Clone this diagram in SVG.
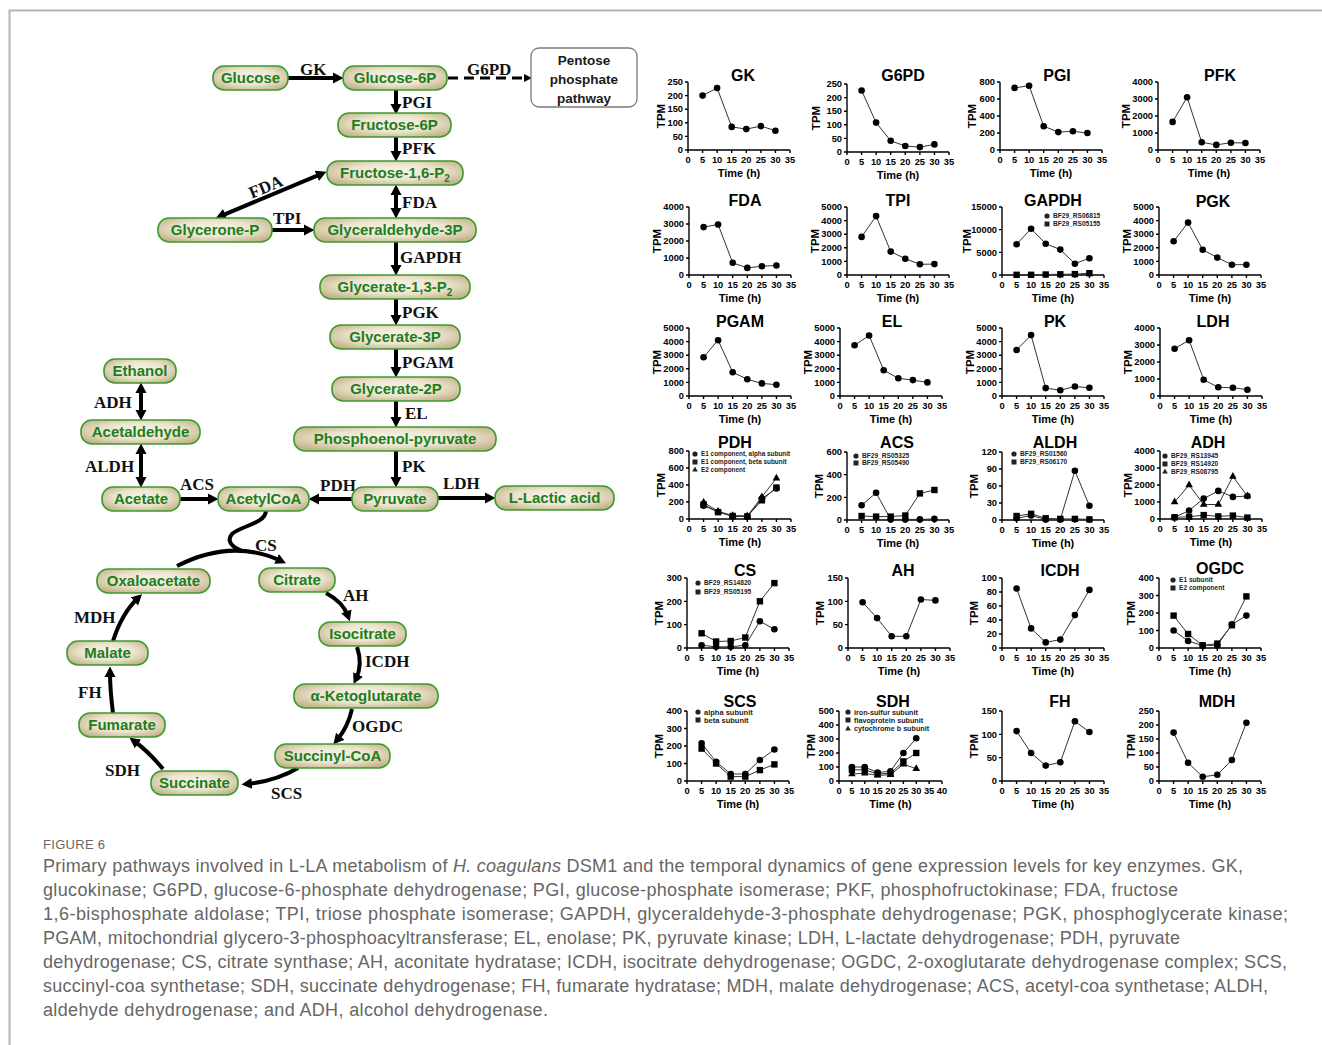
<svg xmlns="http://www.w3.org/2000/svg" xmlns:xlink="http://www.w3.org/1999/xlink" width="1322" height="1045" viewBox="0 0 1322 1045">
<style>
.nd rect{fill:url(#ng);stroke:#3c9b2e;stroke-width:1.6}
.nd text{font:bold 15px "Liberation Sans",Arial,sans-serif;fill:#1e7d1e;text-anchor:middle}
.ppp rect{fill:#fff;stroke:#7a7a7a;stroke-width:1.3}
.ppp text{font:bold 13.5px "Liberation Sans",Arial,sans-serif;fill:#1a1a1a;text-anchor:middle}
.en{font:bold 17px "Liberation Serif","Times New Roman",serif;fill:#111}
.ar{fill:none;stroke:#000;stroke-width:4;marker-end:url(#ah)}
.ab{marker-start:url(#ah)}
.cv{fill:none;stroke:#000;stroke-width:4}
.ad{fill:none;stroke:#000;stroke-width:2.8;stroke-dasharray:10 6;marker-end:url(#adh)}
.ax{fill:none;stroke:#000;stroke-width:1.4}
.tk{font:bold 9.3px "Liberation Sans",Arial,sans-serif;fill:#000}
.tkx{text-anchor:middle}
.tky{text-anchor:end}
.tt{font:bold 16px "Liberation Sans",Arial,sans-serif;text-anchor:middle;fill:#000}
.xl{font:bold 11px "Liberation Sans",Arial,sans-serif;text-anchor:middle;fill:#000}
.yl{font:bold 11.5px "Liberation Sans",Arial,sans-serif;text-anchor:middle;fill:#000}
.pl{fill:none;stroke:#333;stroke-width:1}
.pc{marker-start:url(#mc);marker-mid:url(#mc);marker-end:url(#mc)}
.ps{marker-start:url(#ms);marker-mid:url(#ms);marker-end:url(#ms)}
.pt{marker-start:url(#mt);marker-mid:url(#mt);marker-end:url(#mt)}
.lg{fill:#222;font:bold 6.6px "Liberation Sans",Arial,sans-serif}
.cap{font:18px "Liberation Sans",Arial,sans-serif;fill:#666}
</style>
<defs>
<radialGradient id="ng" cx="50%" cy="45%" r="62%">
<stop offset="0" stop-color="#f8f5ea"/>
<stop offset="0.55" stop-color="#ebe3cd"/>
<stop offset="1" stop-color="#c3b38a"/>
</radialGradient>
<marker id="ah" markerUnits="userSpaceOnUse" markerWidth="12" markerHeight="12" viewBox="0 0 12 12" refX="5" refY="6" orient="auto-start-reverse"><path d="M0,0.5L10.5,6L0,11.5Z" fill="#000"/></marker>
<marker id="adh" markerUnits="userSpaceOnUse" markerWidth="10" markerHeight="10" viewBox="0 0 10 10" refX="3" refY="5" orient="auto"><path d="M0,1L8,5L0,9Z" fill="#000"/></marker>
<marker id="mc" markerUnits="userSpaceOnUse" markerWidth="8" markerHeight="8" refX="4" refY="4" overflow="visible"><circle cx="4" cy="4" r="3.3" fill="#000"/></marker>
<marker id="ms" markerUnits="userSpaceOnUse" markerWidth="8" markerHeight="8" refX="4" refY="4" overflow="visible"><rect x="0.8" y="0.8" width="6.4" height="6.4" fill="#000"/></marker>
<marker id="mt" markerUnits="userSpaceOnUse" markerWidth="8" markerHeight="8" refX="4" refY="4.4" overflow="visible"><path d="M4,0L7.8,6.6L0.2,6.6Z" fill="#000"/></marker>
<g id="xa"><path class="ax" d="M0,0H102M0,0V3M14.57,0V3M29.14,0V3M43.71,0V3M58.29,0V3M72.86,0V3M87.43,0V3M102,0V3"/><text class="tk tkx" y="13"><tspan x="0">0</tspan><tspan x="14.57">5</tspan><tspan x="29.14">10</tspan><tspan x="43.71">15</tspan><tspan x="58.29">20</tspan><tspan x="72.86">25</tspan><tspan x="87.43">30</tspan><tspan x="102">35</tspan></text><text class="xl" x="51" y="27">Time (h)</text></g>
<g id="xa40"><path class="ax" d="M0,0H103M0,0V3M12.88,0V3M25.75,0V3M38.63,0V3M51.5,0V3M64.38,0V3M77.25,0V3M90.13,0V3M103,0V3"/><text class="tk tkx" y="13"><tspan x="0">0</tspan><tspan x="12.88">5</tspan><tspan x="25.75">10</tspan><tspan x="38.63">15</tspan><tspan x="51.5">20</tspan><tspan x="64.38">25</tspan><tspan x="77.25">30</tspan><tspan x="90.13">35</tspan><tspan x="103">40</tspan></text><text class="xl" x="51.5" y="27">Time (h)</text></g>
<g id="yA250"><path class="ax" d="M0,0V-68M-3,0H0M-3,-13.6H0M-3,-27.2H0M-3,-40.8H0M-3,-54.4H0M-3,-68H0"/><text class="tk tky"><tspan x="-5" y="3.2">0</tspan><tspan x="-5" y="-10.4">50</tspan><tspan x="-5" y="-24">100</tspan><tspan x="-5" y="-37.6">150</tspan><tspan x="-5" y="-51.2">200</tspan><tspan x="-5" y="-64.8">250</tspan></text></g>
<g id="yA800"><path class="ax" d="M0,0V-68M-3,0H0M-3,-17H0M-3,-34H0M-3,-51H0M-3,-68H0"/><text class="tk tky"><tspan x="-5" y="3.2">0</tspan><tspan x="-5" y="-13.8">200</tspan><tspan x="-5" y="-30.8">400</tspan><tspan x="-5" y="-47.8">600</tspan><tspan x="-5" y="-64.8">800</tspan></text></g>
<g id="yA4000"><path class="ax" d="M0,0V-68M-3,0H0M-3,-17H0M-3,-34H0M-3,-51H0M-3,-68H0"/><text class="tk tky"><tspan x="-5" y="3.2">0</tspan><tspan x="-5" y="-13.8">1000</tspan><tspan x="-5" y="-30.8">2000</tspan><tspan x="-5" y="-47.8">3000</tspan><tspan x="-5" y="-64.8">4000</tspan></text></g>
<g id="yA120"><path class="ax" d="M0,0V-68M-3,0H0M-3,-17H0M-3,-34H0M-3,-51H0M-3,-68H0"/><text class="tk tky"><tspan x="-5" y="3.2">0</tspan><tspan x="-5" y="-13.8">30</tspan><tspan x="-5" y="-30.8">60</tspan><tspan x="-5" y="-47.8">90</tspan><tspan x="-5" y="-64.8">120</tspan></text></g>
<g id="yA5000"><path class="ax" d="M0,0V-68M-3,0H0M-3,-13.6H0M-3,-27.2H0M-3,-40.8H0M-3,-54.4H0M-3,-68H0"/><text class="tk tky"><tspan x="-5" y="3.2">0</tspan><tspan x="-5" y="-10.4">1000</tspan><tspan x="-5" y="-24">2000</tspan><tspan x="-5" y="-37.6">3000</tspan><tspan x="-5" y="-51.2">4000</tspan><tspan x="-5" y="-64.8">5000</tspan></text></g>
<g id="yA15000"><path class="ax" d="M0,0V-68M-3,0H0M-3,-22.67H0M-3,-45.33H0M-3,-68H0"/><text class="tk tky"><tspan x="-5" y="3.2">0</tspan><tspan x="-5" y="-19.47">5000</tspan><tspan x="-5" y="-42.13">10000</tspan><tspan x="-5" y="-64.8">15000</tspan></text></g>
<g id="yA600"><path class="ax" d="M0,0V-68M-3,0H0M-3,-22.67H0M-3,-45.33H0M-3,-68H0"/><text class="tk tky"><tspan x="-5" y="3.2">0</tspan><tspan x="-5" y="-19.47">200</tspan><tspan x="-5" y="-42.13">400</tspan><tspan x="-5" y="-64.8">600</tspan></text></g>
<g id="yB300"><path class="ax" d="M0,0V-70M-3,0H0M-3,-23.33H0M-3,-46.67H0M-3,-70H0"/><text class="tk tky"><tspan x="-5" y="3.2">0</tspan><tspan x="-5" y="-20.13">100</tspan><tspan x="-5" y="-43.47">200</tspan><tspan x="-5" y="-66.8">300</tspan></text></g>
<g id="yB150"><path class="ax" d="M0,0V-70M-3,0H0M-3,-23.33H0M-3,-46.67H0M-3,-70H0"/><text class="tk tky"><tspan x="-5" y="3.2">0</tspan><tspan x="-5" y="-20.13">50</tspan><tspan x="-5" y="-43.47">100</tspan><tspan x="-5" y="-66.8">150</tspan></text></g>
<g id="yB400"><path class="ax" d="M0,0V-70M-3,0H0M-3,-17.5H0M-3,-35H0M-3,-52.5H0M-3,-70H0"/><text class="tk tky"><tspan x="-5" y="3.2">0</tspan><tspan x="-5" y="-14.3">100</tspan><tspan x="-5" y="-31.8">200</tspan><tspan x="-5" y="-49.3">300</tspan><tspan x="-5" y="-66.8">400</tspan></text></g>
<g id="yB100"><path class="ax" d="M0,0V-70M-3,0H0M-3,-14H0M-3,-28H0M-3,-42H0M-3,-56H0M-3,-70H0"/><text class="tk tky"><tspan x="-5" y="3.2">0</tspan><tspan x="-5" y="-10.8">20</tspan><tspan x="-5" y="-24.8">40</tspan><tspan x="-5" y="-38.8">60</tspan><tspan x="-5" y="-52.8">80</tspan><tspan x="-5" y="-66.8">100</tspan></text></g>
<g id="yB500"><path class="ax" d="M0,0V-70M-3,0H0M-3,-14H0M-3,-28H0M-3,-42H0M-3,-56H0M-3,-70H0"/><text class="tk tky"><tspan x="-5" y="3.2">0</tspan><tspan x="-5" y="-10.8">100</tspan><tspan x="-5" y="-24.8">200</tspan><tspan x="-5" y="-38.8">300</tspan><tspan x="-5" y="-52.8">400</tspan><tspan x="-5" y="-66.8">500</tspan></text></g>
<g id="yB250"><path class="ax" d="M0,0V-70M-3,0H0M-3,-14H0M-3,-28H0M-3,-42H0M-3,-56H0M-3,-70H0"/><text class="tk tky"><tspan x="-5" y="3.2">0</tspan><tspan x="-5" y="-10.8">50</tspan><tspan x="-5" y="-24.8">100</tspan><tspan x="-5" y="-38.8">150</tspan><tspan x="-5" y="-52.8">200</tspan><tspan x="-5" y="-66.8">250</tspan></text></g>
</defs>
<rect width="1322" height="1045" fill="#fff"/>
<path d="M9.5,1045V10.5H1322" fill="none" stroke="#b5b5b5" stroke-width="2"/>

<g id="connectors">
<line class="ar" x1="288" y1="78" x2="338" y2="78"/>
<line class="ad" x1="448" y1="78" x2="527" y2="78"/>
<line class="ar" x1="396" y1="90" x2="396" y2="109"/>
<line class="ar" x1="396" y1="137" x2="396" y2="156"/>
<line class="ar ab" x1="396" y1="190" x2="396" y2="213"/>
<line class="ar ab" x1="321.4" y1="173.9" x2="220.6" y2="216.1"/>
<line class="ar" x1="272" y1="230" x2="309" y2="230"/>
<line class="ar" x1="396" y1="242" x2="396" y2="270"/>
<line class="ar" x1="396" y1="298" x2="396" y2="320"/>
<line class="ar" x1="396" y1="349" x2="396" y2="372"/>
<line class="ar" x1="396" y1="401" x2="396" y2="422"/>
<line class="ar" x1="396" y1="451" x2="396" y2="482"/>
<line class="ar" x1="352" y1="499" x2="314" y2="499"/>
<line class="ar" x1="438" y1="498" x2="490" y2="498"/>
<line class="ar" x1="180" y1="499" x2="213" y2="499"/>
<line class="ar ab" x1="141" y1="388" x2="141" y2="415"/>
<line class="ar ab" x1="141" y1="449" x2="141" y2="482"/>
<path class="cv" d="M266,511 C265,524 240,526 232,534 C226,541 232,547 242,551"/>
<path class="ar" d="M177,566 Q232,538 281,561"/>
<path class="ar" d="M326,593 Q343,602 348,616"/>
<path class="ar" d="M357,647 Q363,664 356,679"/>
<path class="ar" d="M352,709 Q348,727 337,740"/>
<path class="ar" d="M298,768 Q276,781 247,784"/>
<path class="ar" d="M163,769 Q148,751 134,741"/>
<path class="ar" d="M113,713 Q110,690 110,672"/>
<path class="ar" d="M113,641 Q122,613 138,598"/>
</g>

<g id="enzyme-labels">
<text class="en" x="300" y="75">GK</text>
<text class="en" x="467" y="75">G6PD</text>
<text class="en" x="402" y="108">PGI</text>
<text class="en" x="402" y="154">PFK</text>
<text class="en" x="402" y="208">FDA</text>
<text class="en" text-anchor="middle" transform="translate(268,192) rotate(-22.5)">FDA</text>
<text class="en" x="273" y="224">TPI</text>
<text class="en" x="400" y="263">GAPDH</text>
<text class="en" x="402" y="318">PGK</text>
<text class="en" x="402" y="368">PGAM</text>
<text class="en" x="405" y="419">EL</text>
<text class="en" x="402" y="472">PK</text>
<text class="en" x="320" y="491">PDH</text>
<text class="en" x="443" y="489">LDH</text>
<text class="en" x="180" y="490">ACS</text>
<text class="en" x="94" y="408">ADH</text>
<text class="en" x="85" y="472">ALDH</text>
<text class="en" x="255" y="551">CS</text>
<text class="en" x="343" y="601">AH</text>
<text class="en" x="365" y="667">ICDH</text>
<text class="en" x="352" y="732">OGDC</text>
<text class="en" x="271" y="799">SCS</text>
<text class="en" x="105" y="776">SDH</text>
<text class="en" x="78" y="698">FH</text>
<text class="en" x="74" y="623">MDH</text>
</g>

<g id="n-glucose" class="nd"><rect x="213" y="66" width="75" height="24" rx="11"/><text x="250.5" y="83">Glucose</text></g>
<g id="n-glucose6p" class="nd"><rect x="343" y="66" width="104" height="24" rx="11"/><text x="395" y="83">Glucose-6P</text></g>
<g id="n-ppp" class="ppp"><rect x="531" y="48" width="106" height="59" rx="8"/><text x="584" y="65">Pentose</text><text x="584" y="84">phosphate</text><text x="584" y="103">pathway</text></g>
<g id="n-fructose6p" class="nd"><rect x="338" y="113" width="113" height="24" rx="11"/><text x="394.5" y="130">Fructose-6P</text></g>
<g id="n-fructose16p2" class="nd"><rect x="327" y="161" width="136" height="24" rx="11"/><text x="395" y="178">Fructose-1,6-P<tspan font-size="10" dy="4">2</tspan></text></g>
<g id="n-glyceronep" class="nd"><rect x="158" y="218" width="114" height="24" rx="11"/><text x="215" y="235">Glycerone-P</text></g>
<g id="n-glyceraldehyde3p" class="nd"><rect x="314" y="218" width="162" height="24" rx="11"/><text x="395" y="235">Glyceraldehyde-3P</text></g>
<g id="n-glycerate13p2" class="nd"><rect x="320" y="275" width="150" height="24" rx="11"/><text x="395" y="292">Glycerate-1,3-P<tspan font-size="10" dy="4">2</tspan></text></g>
<g id="n-glycerate3p" class="nd"><rect x="330" y="325" width="130" height="24" rx="11"/><text x="395" y="342">Glycerate-3P</text></g>
<g id="n-glycerate2p" class="nd"><rect x="332" y="377" width="128" height="24" rx="11"/><text x="396" y="394">Glycerate-2P</text></g>
<g id="n-pep" class="nd"><rect x="294" y="427" width="202" height="24" rx="11"/><text x="395" y="444">Phosphoenol-pyruvate</text></g>
<g id="n-pyruvate" class="nd"><rect x="352" y="487" width="86" height="24" rx="11"/><text x="395" y="504">Pyruvate</text></g>
<g id="n-lactic" class="nd"><rect x="495" y="486" width="119" height="24" rx="11"/><text x="554.5" y="503">L-Lactic acid</text></g>
<g id="n-acetylcoa" class="nd"><rect x="218" y="487" width="91" height="24" rx="11"/><text x="263.5" y="504">AcetylCoA</text></g>
<g id="n-acetate" class="nd"><rect x="102" y="487" width="78" height="24" rx="11"/><text x="141" y="504">Acetate</text></g>
<g id="n-acetaldehyde" class="nd"><rect x="81" y="420" width="119" height="24" rx="11"/><text x="140.5" y="437">Acetaldehyde</text></g>
<g id="n-ethanol" class="nd"><rect x="104" y="359" width="72" height="24" rx="11"/><text x="140" y="376">Ethanol</text></g>
<g id="n-oxaloacetate" class="nd"><rect x="97" y="569" width="113" height="24" rx="11"/><text x="153.5" y="586">Oxaloacetate</text></g>
<g id="n-citrate" class="nd"><rect x="259" y="568" width="76" height="24" rx="11"/><text x="297" y="585">Citrate</text></g>
<g id="n-isocitrate" class="nd"><rect x="319" y="622" width="87" height="24" rx="11"/><text x="362.5" y="639">Isocitrate</text></g>
<g id="n-akg" class="nd"><rect x="294" y="684" width="144" height="24" rx="11"/><text x="366" y="701">α-Ketoglutarate</text></g>
<g id="n-succinylcoa" class="nd"><rect x="275" y="744" width="115" height="24" rx="11"/><text x="332.5" y="761">Succinyl-CoA</text></g>
<g id="n-succinate" class="nd"><rect x="151" y="771" width="87" height="24" rx="11"/><text x="194.5" y="788">Succinate</text></g>
<g id="n-fumarate" class="nd"><rect x="79" y="713" width="86" height="24" rx="11"/><text x="122" y="730">Fumarate</text></g>
<g id="n-malate" class="nd"><rect x="67" y="641" width="81" height="24" rx="11"/><text x="107.5" y="658">Malate</text></g>

<g id="chart-gk" transform="translate(688,150)"><use href="#xa"/><use href="#yA250"/><text class="yl" transform="translate(-23,-34) rotate(-90)">TPM</text><text class="tt" x="55" y="-69">GK</text>
<polyline class="pl pc" points="14.6,-54.4 29.1,-62 43.7,-23.1 58.3,-20.9 72.9,-23.9 87.4,-19.3"/></g>
<g id="chart-g6pd" transform="translate(847,152)"><use href="#xa"/><use href="#yA250"/><text class="yl" transform="translate(-27,-34) rotate(-90)">TPM</text><text class="tt" x="56" y="-71">G6PD</text>
<polyline class="pl pc" points="14.6,-61.5 29.1,-29.4 43.7,-11.2 58.3,-6 72.9,-4.9 87.4,-7.6"/></g>
<g id="chart-pgi" transform="translate(1000,150)"><use href="#xa"/><use href="#yA800"/><text class="yl" transform="translate(-24,-34) rotate(-90)">TPM</text><text class="tt" x="57" y="-69">PGI</text>
<polyline class="pl pc" points="14.6,-62.1 29.1,-64.3 43.7,-23.8 58.3,-17.9 72.9,-18.7 87.4,-17"/></g>
<g id="chart-pfk" transform="translate(1158,150)"><use href="#xa"/><use href="#yA4000"/><text class="yl" transform="translate(-28,-34) rotate(-90)">TPM</text><text class="tt" x="62" y="-69">PFK</text>
<polyline class="pl pc" points="14.6,-28.1 29.1,-52.7 43.7,-7.7 58.3,-5.1 72.9,-7.3 87.4,-7"/></g>

<g id="chart-fda" transform="translate(689,275)"><use href="#xa"/><use href="#yA4000"/><text class="yl" transform="translate(-28,-34) rotate(-90)">TPM</text><text class="tt" x="56" y="-69">FDA</text>
<polyline class="pl pc" points="14.6,-47.9 29.1,-50.5 43.7,-12.2 58.3,-7.1 72.9,-8.8 87.4,-9.5"/></g>
<g id="chart-tpi" transform="translate(847,275)"><use href="#xa"/><use href="#yA5000"/><text class="yl" transform="translate(-28,-34) rotate(-90)">TPM</text><text class="tt" x="51" y="-69">TPI</text>
<polyline class="pl pc" points="14.6,-38.1 29.1,-58.9 43.7,-23.4 58.3,-16.3 72.9,-10.7 87.4,-10.9"/></g>
<g id="chart-gapdh" transform="translate(1002,275)"><use href="#xa"/><use href="#yA15000"/><text class="yl" transform="translate(-31,-34) rotate(-90)">TPM</text><text class="tt" x="51" y="-69">GAPDH</text>
<polyline class="pl pc" points="14.6,-30.8 29.1,-46.2 43.7,-31.3 58.3,-25.4 72.9,-11.3 87.4,-16.8"/>
<polyline class="pl ps" points="14.6,-0.2 29.1,-0.2 43.7,-0.5 58.3,-0.7 72.9,-0.9 87.4,-1.8"/>
<g class="lg"><circle cx="45" cy="-59" r="2.6"/><rect x="42.5" y="-53.5" width="5" height="5"/><text x="51" y="-56.6">BF29_RS06815</text><text x="51" y="-48.6">BF29_RS05155</text></g></g>
<g id="chart-pgk" transform="translate(1159,275)"><use href="#xa"/><use href="#yA5000"/><text class="yl" transform="translate(-28,-34) rotate(-90)">TPM</text><text class="tt" x="54" y="-68">PGK</text>
<polyline class="pl pc" points="14.6,-33.7 29.1,-52.4 43.7,-25.2 58.3,-17.4 72.9,-10.3 87.4,-10.3"/></g>

<g id="chart-pgam" transform="translate(689,396)"><use href="#xa"/><use href="#yA5000"/><text class="yl" transform="translate(-28,-34) rotate(-90)">TPM</text><text class="tt" x="51" y="-69">PGAM</text>
<polyline class="pl pc" points="14.6,-38.8 29.1,-55.8 43.7,-23.8 58.3,-16.7 72.9,-12.6 87.4,-11.3"/></g>
<g id="chart-el" transform="translate(840,396)"><use href="#xa"/><use href="#yA5000"/><text class="yl" transform="translate(-28,-34) rotate(-90)">TPM</text><text class="tt" x="52" y="-69">EL</text>
<polyline class="pl pc" points="14.6,-50.7 29.1,-60.5 43.7,-25.8 58.3,-17.7 72.9,-15.9 87.4,-13.6"/></g>
<g id="chart-pk" transform="translate(1002,396)"><use href="#xa"/><use href="#yA5000"/><text class="yl" transform="translate(-28,-34) rotate(-90)">TPM</text><text class="tt" x="53" y="-69">PK</text>
<polyline class="pl pc" points="14.6,-46 29.1,-60.9 43.7,-7.9 58.3,-5.8 72.9,-9.5 87.4,-8.2"/></g>
<g id="chart-ldh" transform="translate(1160,396)"><use href="#xa"/><use href="#yA4000"/><text class="yl" transform="translate(-28,-34) rotate(-90)">TPM</text><text class="tt" x="53" y="-69">LDH</text>
<polyline class="pl pc" points="14.6,-47.3 29.1,-55.8 43.7,-16.3 58.3,-8.7 72.9,-8.3 87.4,-6.3"/></g>

<g id="chart-pdh" transform="translate(689,519)"><use href="#xa"/><use href="#yA800"/><text class="yl" transform="translate(-24,-34) rotate(-90)">TPM</text><text class="tt" x="46" y="-71">PDH</text>
<polyline class="pl pc" points="14.6,-13.2 29.1,-7.2 43.7,-2.6 58.3,-2.6 72.9,-20.4 87.4,-30.6"/>
<polyline class="pl ps" points="14.6,-14.5 29.1,-6.8 43.7,-3 58.3,-2.6 72.9,-18.7 87.4,-31.5"/>
<polyline class="pl pt" points="14.6,-16.6 29.1,-7.7 43.7,-3.4 58.3,-3 72.9,-22.1 87.4,-40.8"/>
<g class="lg" style="font-size:6.4px"><circle cx="6" cy="-65" r="2.6"/><rect x="3.5" y="-59.5" width="5" height="5"/><path d="M6,-52.6L8.8,-47.6L3.2,-47.6Z"/><text x="12" y="-62.6">E1 component, alpha subunit</text><text x="12" y="-54.6">E1 component, beta subunit</text><text x="12" y="-46.6">E2 component</text></g></g>
<g id="chart-acs" transform="translate(847,520)"><use href="#xa"/><use href="#yA600"/><text class="yl" transform="translate(-24,-34) rotate(-90)">TPM</text><text class="tt" x="50" y="-72">ACS</text>
<polyline class="pl pc" points="14.6,-14.7 29.1,-27.2 43.7,-0.6 58.3,-0.6 72.9,-0.6 87.4,-1.1"/>
<polyline class="pl ps" points="14.6,-4 29.1,-3.4 43.7,-3.4 58.3,-4.5 72.9,-26.6 87.4,-30"/>
<g class="lg"><circle cx="9" cy="-64" r="2.6"/><rect x="6.5" y="-59.5" width="5" height="5"/><text x="15" y="-61.6">BF29_RS05325</text><text x="15" y="-54.6">BF29_RS05490</text></g></g>
<g id="chart-aldh" transform="translate(1002,520)"><use href="#xa"/><use href="#yA120"/><text class="yl" transform="translate(-24,-34) rotate(-90)">TPM</text><text class="tt" x="53" y="-72">ALDH</text>
<polyline class="pl pc" points="14.6,-1.7 29.1,-4.5 43.7,-0.6 58.3,-0.6 72.9,-49.3 87.4,-14.2"/>
<polyline class="pl ps" points="14.6,-4 29.1,-6.2 43.7,-1.7 58.3,-1.1 72.9,-1.1 87.4,-0.6"/>
<g class="lg"><circle cx="12" cy="-66" r="2.6"/><rect x="9.5" y="-60.5" width="5" height="5"/><text x="18" y="-63.6">BF29_RS01560</text><text x="18" y="-55.6">BF29_RS06170</text></g></g>
<g id="chart-adh" transform="translate(1160,519)"><use href="#xa"/><use href="#yA4000"/><text class="yl" transform="translate(-28,-34) rotate(-90)">TPM</text><text class="tt" x="48" y="-71">ADH</text>
<polyline class="pl pc" points="14.6,-1.7 29.1,-8.5 43.7,-20.4 58.3,-28.1 72.9,-22.1 87.4,-23"/>
<polyline class="pl ps" points="14.6,-1.7 29.1,-2.2 43.7,-3.9 58.3,-2.6 72.9,-3.4 87.4,-1.4"/>
<polyline class="pl pt" points="14.6,-17 29.1,-34 43.7,-14.5 58.3,-14.5 72.9,-42.5 87.4,-23"/>
<g class="lg"><circle cx="5" cy="-63" r="2.6"/><rect x="2.5" y="-57.5" width="5" height="5"/><path d="M5,-50.6L7.8,-45.6L2.2,-45.6Z"/><text x="11" y="-60.6">BF29_RS13945</text><text x="11" y="-52.6">BF29_RS14920</text><text x="11" y="-44.6">BF29_RS08795</text></g></g>

<g id="chart-cs" transform="translate(687,648)"><use href="#xa"/><use href="#yB300"/><text class="yl" transform="translate(-24,-35) rotate(-90)">TPM</text><text class="tt" x="58" y="-72">CS</text>
<polyline class="pl pc" points="14.6,-2.8 29.1,-1.2 43.7,-1.2 58.3,-2.8 72.9,-26.8 87.4,-18.7"/>
<polyline class="pl ps" points="14.6,-14.7 29.1,-6.5 43.7,-7 58.3,-10.5 72.9,-46.7 87.4,-64.9"/>
<g class="lg"><circle cx="11" cy="-65" r="2.6"/><rect x="8.5" y="-58.5" width="5" height="5"/><text x="17" y="-62.6">BF29_RS14820</text><text x="17" y="-53.6">BF29_RS05195</text></g></g>
<g id="chart-ah" transform="translate(848,648)"><use href="#xa"/><use href="#yB150"/><text class="yl" transform="translate(-24,-35) rotate(-90)">TPM</text><text class="tt" x="55" y="-72">AH</text>
<polyline class="pl pc" points="14.6,-45.7 29.1,-29.9 43.7,-11.7 58.3,-11.7 72.9,-48.5 87.4,-47.6"/></g>
<g id="chart-icdh" transform="translate(1002,648)"><use href="#xa"/><use href="#yB100"/><text class="yl" transform="translate(-24,-35) rotate(-90)">TPM</text><text class="tt" x="58" y="-72">ICDH</text>
<polyline class="pl pc" points="14.6,-59.5 29.1,-19.6 43.7,-5.6 58.3,-8.4 72.9,-32.9 87.4,-58.1"/></g>
<g id="chart-ogdc" transform="translate(1159,648)"><use href="#xa"/><use href="#yB400"/><text class="yl" transform="translate(-24,-35) rotate(-90)">TPM</text><text class="tt" x="61" y="-74">OGDC</text>
<polyline class="pl pc" points="14.6,-17.5 29.1,-7 43.7,-2.6 58.3,-2.6 72.9,-23.6 87.4,-32.4"/>
<polyline class="pl ps" points="14.6,-32.4 29.1,-14 43.7,-2.6 58.3,-4.4 72.9,-22.75 87.4,-51.6"/>
<g class="lg"><circle cx="14" cy="-68" r="2.6"/><rect x="11.5" y="-62.5" width="5" height="5"/><text x="20" y="-65.6">E1 subunit</text><text x="20" y="-57.6">E2 component</text></g></g>

<g id="chart-scs" transform="translate(687,781)"><use href="#xa"/><use href="#yB400"/><text class="yl" transform="translate(-24,-35) rotate(-90)">TPM</text><text class="tt" x="53" y="-74">SCS</text>
<polyline class="pl pc" points="14.6,-37.6 29.1,-19.25 43.7,-7 58.3,-7 72.9,-21 87.4,-31.5"/>
<polyline class="pl ps" points="14.6,-32.4 29.1,-17.5 43.7,-4.4 58.3,-4.4 72.9,-10.9 87.4,-16.6"/>
<g class="lg" style="font-size:7.5px"><circle cx="11" cy="-69" r="2.6"/><rect x="8.5" y="-63.5" width="5" height="5"/><text x="17" y="-66.4">alpha subunit</text><text x="17" y="-58.4">beta subunit</text></g></g>
<g id="chart-sdh" transform="translate(839,781)"><use href="#xa40"/><use href="#yB500"/><text class="yl" transform="translate(-24,-35) rotate(-90)">TPM</text><text class="tt" x="54" y="-74">SDH</text>
<polyline class="pl pc" points="12.9,-14 25.75,-14 38.6,-8.4 51.5,-9.8 64.4,-28 77.25,-42.7"/>
<polyline class="pl ps" points="12.9,-11.2 25.75,-11.2 38.6,-7 51.5,-7.7 64.4,-19.6 77.25,-28"/>
<polyline class="pl pt" points="12.9,-7 25.75,-7.7 38.6,-5.6 51.5,-6.3 64.4,-16.8 77.25,-12.3"/>
<g class="lg" style="font-size:7.2px"><circle cx="9" cy="-69" r="2.6"/><rect x="6.5" y="-63.5" width="5" height="5"/><path d="M9,-55.6L11.8,-50.6L6.2,-50.6Z"/><text x="15" y="-66.4">iron-sulfur subunit</text><text x="15" y="-58.4">flavoprotein subunit</text><text x="15" y="-50.4">cytochrome b subunit</text></g></g>
<g id="chart-fh" transform="translate(1002,781)"><use href="#xa"/><use href="#yB150"/><text class="yl" transform="translate(-24,-35) rotate(-90)">TPM</text><text class="tt" x="58" y="-74">FH</text>
<polyline class="pl pc" points="14.6,-49.9 29.1,-28 43.7,-15.4 58.3,-18.7 72.9,-59.7 87.4,-49"/></g>
<g id="chart-mdh" transform="translate(1159,781)"><use href="#xa"/><use href="#yB250"/><text class="yl" transform="translate(-24,-35) rotate(-90)">TPM</text><text class="tt" x="58" y="-74">MDH</text>
<polyline class="pl pc" points="14.6,-48.4 29.1,-18.2 43.7,-4.2 58.3,-6.2 72.9,-21 87.4,-58.2"/></g>

<g id="caption">
<text x="43" y="849" style="font:13px 'Liberation Sans',Arial,sans-serif;fill:#666;letter-spacing:0.3px">FIGURE 6</text>
<text class="cap" x="43" y="872" textLength="1200" lengthAdjust="spacing">Primary pathways involved in L-LA metabolism of <tspan font-style="italic">H. coagulans</tspan> DSM1 and the temporal dynamics of gene expression levels for key enzymes. GK,</text>
<text class="cap" x="43" y="896" textLength="1135" lengthAdjust="spacing">glucokinase; G6PD, glucose-6-phosphate dehydrogenase; PGI, glucose-phosphate isomerase; PKF, phosphofructokinase; FDA, fructose</text>
<text class="cap" x="43" y="920" textLength="1245" lengthAdjust="spacing">1,6-bisphosphate aldolase; TPI, triose phosphate isomerase; GAPDH, glyceraldehyde-3-phosphate dehydrogenase; PGK, phosphoglycerate kinase;</text>
<text class="cap" x="43" y="944" textLength="1137" lengthAdjust="spacing">PGAM, mitochondrial glycero-3-phosphoacyltransferase; EL, enolase; PK, pyruvate kinase; LDH, L-lactate dehydrogenase; PDH, pyruvate</text>
<text class="cap" x="43" y="968" textLength="1244" lengthAdjust="spacing">dehydrogenase; CS, citrate synthase; AH, aconitate hydratase; ICDH, isocitrate dehydrogenase; OGDC, 2-oxoglutarate dehydrogenase complex; SCS,</text>
<text class="cap" x="43" y="992" textLength="1225" lengthAdjust="spacing">succinyl-coa synthetase; SDH, succinate dehydrogenase; FH, fumarate hydratase; MDH, malate dehydrogenase; ACS, acetyl-coa synthetase; ALDH,</text>
<text class="cap" x="43" y="1016" textLength="505" lengthAdjust="spacing">aldehyde dehydrogenase; and ADH, alcohol dehydrogenase.</text>
</g>
</svg>
